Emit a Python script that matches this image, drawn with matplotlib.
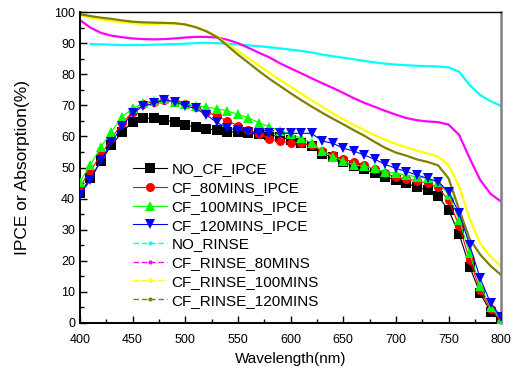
import numpy as np
import matplotlib
matplotlib.use("Agg")
import matplotlib.pyplot as plt
from matplotlib.lines import Line2D
from matplotlib.ticker import MultipleLocator

plt.rcParams['font.family'] = ['Liberation Sans', 'DejaVu Sans']

# wavelength grid (nm)
wl = list(range(400, 801, 10))
wl_rinse = list(range(410, 801, 10))

# IPCE curves (%)
no_cf_ipce = [41.7, 46.5, 52.0, 57.2, 61.3, 64.7, 65.8, 65.8, 65.4, 64.5,
              63.7, 62.9, 62.4, 62.1, 61.5, 61.5, 61.0, 60.8, 60.5, 59.9,
              58.8, 58.0, 57.0, 54.5, 53.3, 51.8, 50.5, 49.4, 48.3, 47.0,
              46.0, 44.9, 43.6, 42.8, 40.8, 36.3, 28.6, 18.1, 9.5, 3.6, 0.5]
cf_80_ipce = [43.8, 49.0, 54.0, 59.4, 64.2, 67.9, 70.4, 71.2, 71.7, 71.2,
              70.4, 69.5, 68.0, 66.5, 65.0, 63.5, 62.2, 60.8, 59.2, 58.4,
              58.0, 57.8, 57.2, 55.2, 54.0, 52.6, 51.9, 50.8, 49.4, 48.1,
              47.0, 46.2, 45.8, 44.9, 43.6, 39.5, 31.3, 20.3, 10.6, 4.4, 0.5]
cf_100_ipce = [45.4, 50.8, 56.7, 61.5, 66.3, 69.0, 70.6, 71.5, 71.9, 71.2,
               70.4, 69.8, 69.4, 68.9, 68.2, 67.1, 66.0, 64.4, 63.0, 61.8,
               60.8, 59.4, 58.0, 55.4, 53.5, 52.1, 50.8, 50.4, 49.7, 48.7,
               48.1, 47.6, 47.0, 46.5, 45.4, 41.2, 33.2, 22.4, 11.9, 5.2, 1.0]
cf_120_ipce = [41.2, 46.0, 52.4, 58.1, 63.3, 67.4, 69.8, 70.6, 71.7, 71.2,
               69.8, 69.0, 66.9, 64.5, 62.6, 62.1, 61.5, 61.2, 61.0, 61.0,
               61.0, 61.0, 61.0, 58.5, 57.8, 56.2, 55.3, 54.0, 52.6, 51.0,
               49.7, 48.7, 47.6, 46.5, 45.4, 42.2, 35.3, 25.1, 14.4, 6.3, 2.0]

# absorption curves (%)
no_rinse = [89.7, 89.6, 89.5, 89.4, 89.4, 89.4, 89.5, 89.6, 89.7, 89.8,
            90.0, 90.1, 90.0, 89.8, 89.6, 89.3, 89.0, 88.7, 88.3, 87.9,
            87.5, 87.0, 86.3, 85.8, 85.3, 84.8, 84.3, 83.8, 83.4, 83.1,
            82.9, 82.7, 82.6, 82.5, 82.2, 80.8, 76.5, 73.3, 71.3, 69.8]
rinse_80 = [97.4, 95.0, 93.3, 92.4, 91.9, 91.5, 91.3, 91.2, 91.3, 91.5,
            91.8, 92.0, 92.0, 91.8, 91.1, 90.0, 88.5, 86.9, 85.4, 83.5,
            81.9, 80.3, 78.7, 77.1, 75.6, 74.0, 72.3, 70.8, 69.5, 68.2,
            67.0, 65.9, 65.2, 64.8, 64.6, 63.8, 60.5, 53.0, 46.0, 41.5, 39.0]
rinse_100 = [99.0, 98.2, 97.6, 97.1, 96.7, 96.4, 96.2, 96.2, 96.3, 96.3,
             96.0, 95.2, 94.0, 92.2, 89.7, 87.4, 85.2, 82.8, 80.4, 78.1,
             76.0, 73.8, 71.6, 69.5, 67.5, 65.5, 63.7, 62.0, 60.4, 58.9,
             57.6, 56.5, 55.4, 54.5, 53.5, 50.8, 44.0, 33.5, 25.6, 21.2, 18.3]
rinse_120 = [99.3, 98.7, 98.2, 97.8, 97.3, 96.9, 96.7, 96.6, 96.5, 96.4,
             96.0, 95.1, 93.8, 92.0, 89.2, 86.3, 83.7, 81.0, 78.5, 76.2,
             73.9, 71.7, 69.6, 67.6, 65.7, 63.9, 62.0, 60.2, 58.2, 56.3,
             54.8, 53.8, 52.6, 51.8, 50.7, 46.5, 36.5, 27.0, 22.0, 18.3, 15.4]

ipce_labels = ["NO_CF_IPCE", "CF_80MINS_IPCE", "CF_100MINS_IPCE", "CF_120MINS_IPCE"]
abs_labels = ["NO_RINSE", "CF_RINSE_80MINS", "CF_RINSE_100MINS", "CF_RINSE_120MINS"]

fig = plt.figure(figsize=(5.12, 3.76), dpi=100)
ax = fig.add_axes([0.156, 0.141, 0.823, 0.827])

# absorption lines
abs_colors = ["#00FFFF", "#FF00FF", "#FFFF00", "#808000"]
abs_data = [(wl_rinse, no_rinse), (wl, rinse_80), (wl, rinse_100), (wl, rinse_120)]
for (x, y), c in zip(abs_data, abs_colors):
    ax.plot(x, y, color=c, lw=1.6, zorder=2)

# IPCE with markers
ipce_series = [no_cf_ipce, cf_80_ipce, cf_100_ipce, cf_120_ipce]
ipce_colors = ["black", "#FF0000", "#00FF00", "#0000FF"]
ipce_markers = ["s", "o", "^", "v"]
handles = []
for y, c, m, lab in zip(ipce_series, ipce_colors, ipce_markers, ipce_labels):
    h, = ax.plot(wl, y, color=c, lw=0.8, marker=m, markersize=6.5,
                 markeredgewidth=0, label=lab, zorder=3)
    handles.append(h)
for c, lab in zip(abs_colors, abs_labels):
    handles.append(Line2D([], [], color=c, lw=1.0, ls=(0, (4, 2)),
                          marker='.', markersize=4, label=lab))

ax.set_xlim(400, 800)
ax.set_ylim(0, 100)
ax.xaxis.set_major_locator(MultipleLocator(50))
ax.xaxis.set_minor_locator(MultipleLocator(25))
ax.yaxis.set_major_locator(MultipleLocator(10))
ax.yaxis.set_minor_locator(MultipleLocator(5))
ax.tick_params(which='both', direction='in', labelsize=9, width=1)
ax.tick_params(which='major', length=5)
ax.tick_params(which='minor', length=3)
ax.tick_params(axis='x', pad=8)
ax.spines['left'].set_linewidth(1.4)
ax.spines['bottom'].set_linewidth(1.4)
ax.spines['top'].set_linewidth(1.0)
ax.spines['right'].set_linewidth(1.8)
ax.spines['right'].set_color('#808080')

ax.set_xlabel("Wavelength(nm)", fontsize=11, labelpad=4)
ax.set_ylabel("IPCE or Absorption(%)", fontsize=12.5, labelpad=17)

ax.legend(handles=handles, loc='lower left', bbox_to_anchor=(0.112, 0.03),
          frameon=False, fontsize=11, handlelength=2.2, handletextpad=0.3,
          labelspacing=0.31, borderaxespad=0)

fig.savefig("out.png", dpi=100)
